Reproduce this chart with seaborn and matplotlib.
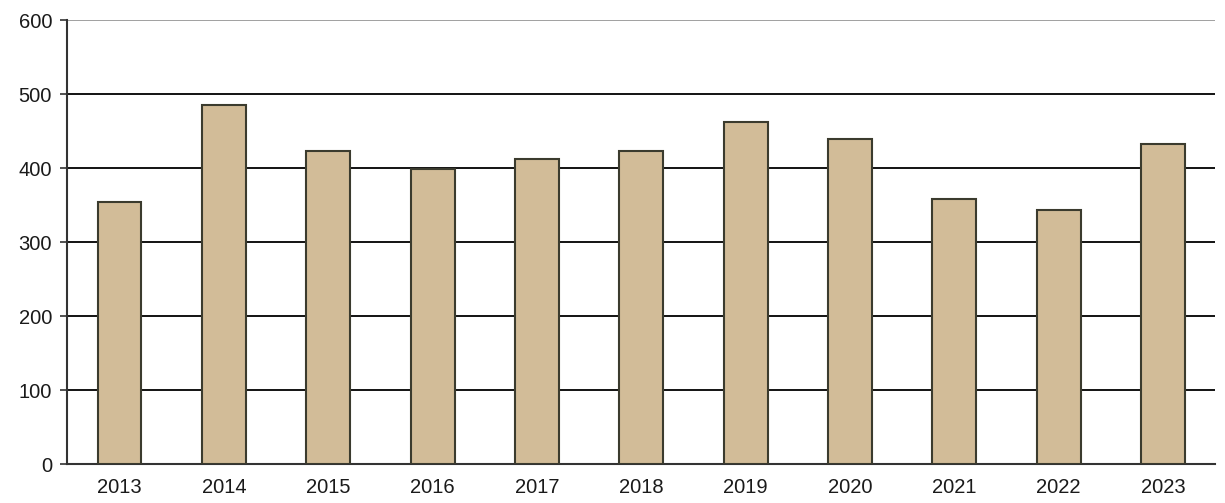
import matplotlib.pyplot as plt
import numpy as np
import pandas as pd
import seaborn as sns
from matplotlib.ticker import FixedLocator

years = ["2013", "2014", "2015", "2016", "2017", "2018", "2019", "2020", "2021", "2022", "2023"]
values = [354, 486, 423, 399, 413, 423, 462, 440, 358, 343, 432]
y_ticks = [0, 100, 200, 300, 400, 500, 600]

df = pd.DataFrame({"Year": years, "Value": values})

sns.set_style("white")
plt.rcParams["font.family"] = ["Liberation Sans", "DejaVu Sans"]

fig = plt.figure(figsize=(12.25, 5.03), dpi=100)
ax = fig.add_axes([0.055, 0.077, 0.937, 0.883])

sns.barplot(data=df, x="Year", y="Value", color="#D2BC98", saturation=1,
            width=0.42, edgecolor="#3b3b2e", linewidth=1.5, ax=ax, zorder=3)

ax.set_ylim(0, 600)
ax.set_xlim(-0.5, len(years) - 0.5)
ax.set_yticks(y_ticks)
for t in y_ticks[1:-1]:
    ax.axhline(t, color="black", linewidth=1.3, zorder=1)
ax.axhline(600, color="#999999", linewidth=1.3, zorder=1)

ax.xaxis.set_minor_locator(FixedLocator(np.arange(-0.5, len(years), 1.0)))
ax.tick_params(axis="x", which="major", length=0, labelsize=14.5, pad=10, labelcolor="#1a1a1a")
ax.tick_params(axis="x", which="minor", length=5, width=1.2, color="#333333", direction="out")
ax.tick_params(axis="y", length=5, width=1.2, color="#333333", direction="out",
               labelsize=14.5, left=True, pad=6, labelcolor="#1a1a1a")

for side in ["top", "right"]:
    ax.spines[side].set_visible(False)
for side in ["left", "bottom"]:
    ax.spines[side].set_color("#333333")
    ax.spines[side].set_linewidth(1.5)

ax.set_xlabel("")
ax.set_ylabel("")

fig.savefig("out.png", dpi=100)
plt.close()
